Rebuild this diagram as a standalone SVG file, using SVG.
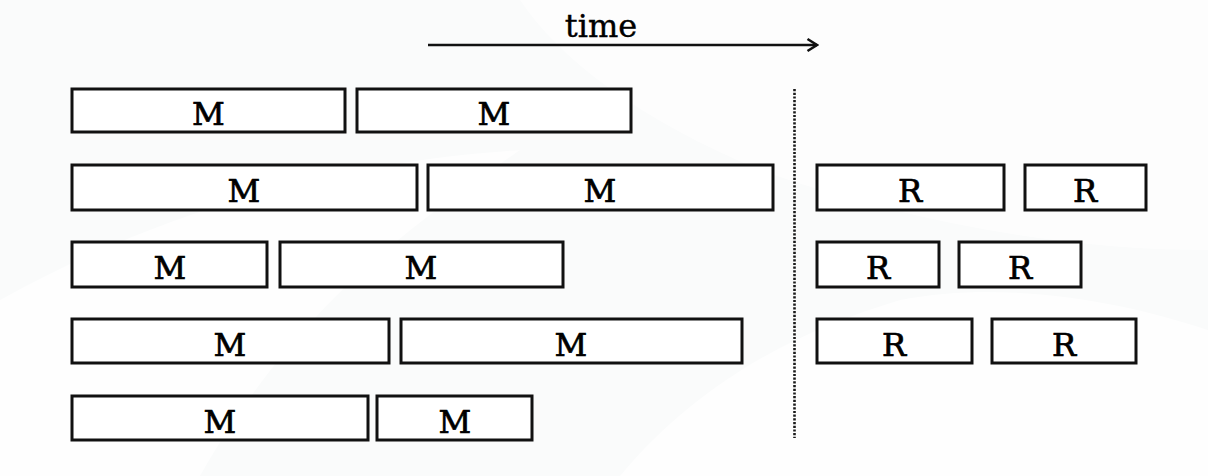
<svg xmlns="http://www.w3.org/2000/svg" width="1208" height="476" viewBox="0 0 1208 476">
  <style>
    .box rect { fill: #ffffff; stroke: #111111; stroke-width: 3; }
    .box text { font-family: "DejaVu Serif", "Liberation Serif", serif; font-size: 32px; fill: #000000; stroke: #000000; stroke-width: 0.7; text-anchor: middle; }
    .axis { stroke: #111111; stroke-width: 2.6; fill: none; }
    .divider { stroke: #1a1a1a; stroke-width: 2.6; stroke-dasharray: 2.2 1.5; fill: none; }
    .label { font-family: "DejaVu Serif", "Liberation Serif", serif; font-size: 32px; fill: #000000; stroke: #000000; stroke-width: 0.4; }
  </style>
  <defs>
    <marker id="chevron" viewBox="0 0 14 16" refX="12.5" refY="8" markerWidth="14" markerHeight="16" markerUnits="userSpaceOnUse" orient="auto">
      <path d="M3,2 L12.5,8 L3,14" fill="none" stroke="#111111" stroke-width="2.6"/>
    </marker>
  </defs>

  <!-- faint backdrop -->
  <rect x="0" y="0" width="1208" height="476" fill="#fafbfb"/>
  <g fill="#ffffff">
    <path d="M0,300 C180,200 360,160 520,150 C420,220 300,300 200,476 L0,476 Z" opacity="0.7"/>
    <path d="M620,476 C700,380 800,330 900,300 C1000,280 1120,300 1208,330 L1208,476 Z" opacity="0.7"/>
    <path d="M520,0 C560,60 640,120 760,170 C900,220 1060,250 1208,250 L1208,0 Z" opacity="0.6"/>
  </g>

  <!-- time axis -->
  <g id="time-axis">
    <text class="label" x="601" y="37" text-anchor="middle">time</text>
    <line class="axis" x1="428" y1="45" x2="817" y2="45" marker-end="url(#chevron)"/>
  </g>

  <!-- map / reduce boundary -->
  <g id="connectors">
    <line class="divider" x1="794.5" y1="89" x2="794.5" y2="438"/>
  </g>

  <!-- row 1 -->
  <g id="m1a" class="box"><rect x="72" y="89" width="273" height="43"/><text x="208.5" y="125">M</text></g>
  <g id="m1b" class="box"><rect x="357" y="89" width="274" height="43"/><text x="494" y="125">M</text></g>

  <!-- row 2 -->
  <g id="m2a" class="box"><rect x="72" y="165" width="345" height="45"/><text x="244" y="202">M</text></g>
  <g id="m2b" class="box"><rect x="428" y="165" width="345" height="45"/><text x="600" y="202">M</text></g>
  <g id="r2a" class="box"><rect x="817" y="165" width="187" height="45"/><text x="910" y="202">R</text></g>
  <g id="r2b" class="box"><rect x="1025" y="165" width="121" height="45"/><text x="1085" y="202">R</text></g>

  <!-- row 3 -->
  <g id="m3a" class="box"><rect x="72" y="242" width="195" height="45"/><text x="170" y="279">M</text></g>
  <g id="m3b" class="box"><rect x="280" y="242" width="283" height="45"/><text x="421" y="279">M</text></g>
  <g id="r3a" class="box"><rect x="817" y="242" width="122" height="45"/><text x="878" y="279">R</text></g>
  <g id="r3b" class="box"><rect x="959" y="242" width="122" height="45"/><text x="1020" y="279">R</text></g>

  <!-- row 4 -->
  <g id="m4a" class="box"><rect x="72" y="319" width="317" height="44"/><text x="230" y="356">M</text></g>
  <g id="m4b" class="box"><rect x="401" y="319" width="341" height="44"/><text x="571" y="356">M</text></g>
  <g id="r4a" class="box"><rect x="817" y="319" width="155" height="44"/><text x="894" y="356">R</text></g>
  <g id="r4b" class="box"><rect x="992" y="319" width="144" height="44"/><text x="1064" y="356">R</text></g>

  <!-- row 5 -->
  <g id="m5a" class="box"><rect x="72" y="396" width="296" height="44"/><text x="220" y="433">M</text></g>
  <g id="m5b" class="box"><rect x="377" y="396" width="155" height="44"/><text x="455" y="433">M</text></g>
</svg>
